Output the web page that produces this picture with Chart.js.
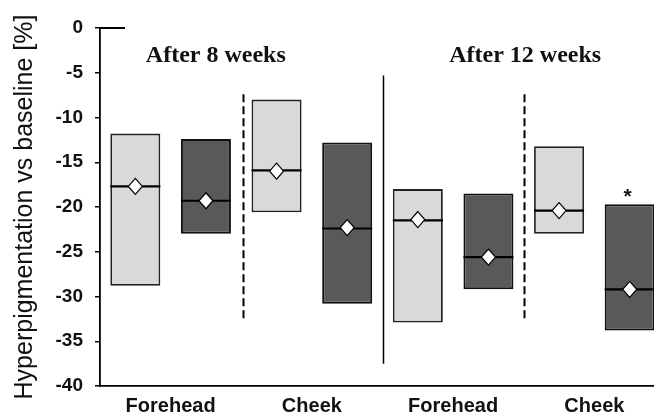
<!DOCTYPE html>
<html>
<head>
<meta charset="utf-8">
<script src="https://cdn.jsdelivr.net/npm/chart.js@4.4.1/dist/chart.umd.min.js"></script>
<style>
  html, body { margin: 0; padding: 0; background: #fff; overflow: hidden; }
  #wrap { width: 670px; height: 412px; }
</style>
</head>
<body>
<div id="wrap"><canvas id="chart" width="670" height="412"></canvas></div>
<script>
// Treatment sites, two per follow-up period
const sites = ['Forehead', 'Cheek', 'Forehead', 'Cheek'];
const periods = ['After 8 weeks', 'After 12 weeks'];

// Y axis range and tick step (% change vs baseline)
const yMin = -40;
const yMax = 0;
const yStep = 5;

// Light group: range (low..high), median and mean per site
const lightLow    = [-28.8, -20.6, -32.9, -23.0];
const lightHigh   = [-11.8,  -8.0, -18.0, -13.2];
const lightMedian = [-17.7, -15.9, -21.5, -20.4];
const lightMean   = [-17.7, -16.0, -21.4, -20.4];

// Dark group: range (low..high), median and mean per site
const darkLow    = [-23.0, -30.8, -29.2, -33.8];
const darkHigh   = [-12.4, -12.8, -18.5, -19.7];
const darkMedian = [-19.3, -22.4, -25.6, -29.2];
const darkMean   = [-19.3, -22.3, -25.6, -29.2];

// Significance marker for the dark group
const darkSignificant = [false, false, false, true];

const SANS = '"Liberation Sans", Arial, Helvetica, sans-serif';
const SERIF = '"Liberation Serif", "Times New Roman", serif';

const medians = [lightMedian, darkMedian];
const means = [lightMean, darkMean];
const significant = [lightLow.map(() => false), darkSignificant];

// Where the period captions sit, in category units
const periodAnchor = [0.32, 2.51];

const overlay = {
  id: 'overlay',
  beforeDatasetsDraw(chart) {
    const { ctx, chartArea, scales: { x, y } } = chart;
    ctx.save();
    ctx.strokeStyle = '#000';
    // dashed separators between sites, solid separator between periods
    const seps = [
      { at: 0.51, from: -7.4, to: -32.5, dash: [8, 4], w: 2 },
      { at: 1.5, from: -5.3, to: -37.5, dash: [], w: 1.5 },
      { at: 2.5, from: -7.4, to: -32.5, dash: [8, 4], w: 2 }
    ];
    seps.forEach(s => {
      const px = Math.round(x.getPixelForValue(s.at)) + 0.5;
      ctx.setLineDash(s.dash);
      ctx.lineWidth = s.w;
      ctx.beginPath();
      ctx.moveTo(px, y.getPixelForValue(s.from));
      ctx.lineTo(px, y.getPixelForValue(s.to));
      ctx.stroke();
    });
    ctx.setLineDash([]);
    // short reference line at zero
    const y0 = y.getPixelForValue(0);
    ctx.lineWidth = 2;
    ctx.beginPath();
    ctx.moveTo(chartArea.left, y0);
    ctx.lineTo(chartArea.left + 25, y0);
    ctx.stroke();
    // period captions
    ctx.fillStyle = '#111';
    ctx.font = 'bold 24px ' + SERIF;
    ctx.textAlign = 'center';
    ctx.textBaseline = 'alphabetic';
    periods.forEach((p, i) => {
      ctx.fillText(p, x.getPixelForValue(periodAnchor[i]), y.getPixelForValue(-3.8));
    });
    ctx.restore();
  },
  afterDatasetsDraw(chart) {
    const { ctx, scales: { y } } = chart;
    ctx.save();
    chart.data.datasets.forEach((ds, di) => {
      const meta = chart.getDatasetMeta(di);
      meta.data.forEach((bar, j) => {
        const { x: bx, width } = bar.getProps(['x', 'width'], true);
        // median line across the box
        const my = y.getPixelForValue(medians[di][j]);
        ctx.strokeStyle = '#000';
        ctx.lineWidth = 2.2;
        ctx.beginPath();
        ctx.moveTo(bx - width / 2, my);
        ctx.lineTo(bx + width / 2, my);
        ctx.stroke();
        // mean as a white diamond
        const ay = y.getPixelForValue(means[di][j]);
        ctx.fillStyle = '#fff';
        ctx.lineWidth = 1.2;
        ctx.beginPath();
        ctx.moveTo(bx, ay - 8);
        ctx.lineTo(bx + 7, ay);
        ctx.lineTo(bx, ay + 8);
        ctx.lineTo(bx - 7, ay);
        ctx.closePath();
        ctx.fill();
        ctx.stroke();
        // significance asterisk above the box
        if (significant[di][j]) {
          const top = y.getPixelForValue(ds.data[j][1]);
          ctx.fillStyle = '#111';
          ctx.font = 'bold 21px ' + SANS;
          ctx.textAlign = 'center';
          ctx.textBaseline = 'alphabetic';
          ctx.fillText('*', bx - 2, top - 1);
        }
      });
    });
    ctx.restore();
  }
};

new Chart(document.getElementById('chart'), {
  type: 'bar',
  data: {
    labels: sites,
    datasets: [
      {
        data: lightLow.map((v, i) => [v, lightHigh[i]]),
        backgroundColor: '#d9d9d9',
        borderColor: '#222',
        borderWidth: 1.8,
        borderSkipped: false
      },
      {
        data: darkLow.map((v, i) => [v, darkHigh[i]]),
        backgroundColor: '#595959',
        borderColor: '#111',
        borderWidth: 2,
        borderSkipped: false
      }
    ]
  },
  options: {
    responsive: false,
    animation: false,
    categoryPercentage: 1.0,
    barPercentage: 0.708,
    layout: { padding: { top: 28, right: 5, left: 0, bottom: 0 } },
    plugins: { legend: { display: false }, tooltip: { enabled: false } },
    scales: {
      x: {
        grid: { display: false, drawTicks: false },
        border: { display: true, color: '#000', width: 1.8 },
        ticks: { color: '#111', font: { family: SANS, size: 20, weight: 'bold' }, padding: 8, maxRotation: 0 },
        afterFit(scale) { scale.height = 26; }
      },
      y: {
        min: yMin,
        max: yMax,
        grid: { display: true, drawOnChartArea: false, drawTicks: true, tickLength: 5, color: '#000', lineWidth: 1.5 },
        border: { display: true, color: '#000', width: 1.8 },
        ticks: { stepSize: yStep, color: '#111', font: { family: SANS, size: 19, weight: 'bold' }, padding: 12 },
        title: {
          display: true,
          text: 'Hyperpigmentation vs baseline [%]',
          color: '#111',
          font: { family: SANS, size: 25, weight: 'normal' },
          padding: { top: 10, bottom: 0 }
        },
        afterFit(scale) { scale.width = 100; }
      }
    }
  },
  plugins: [overlay]
});
</script>
</body>
</html>
